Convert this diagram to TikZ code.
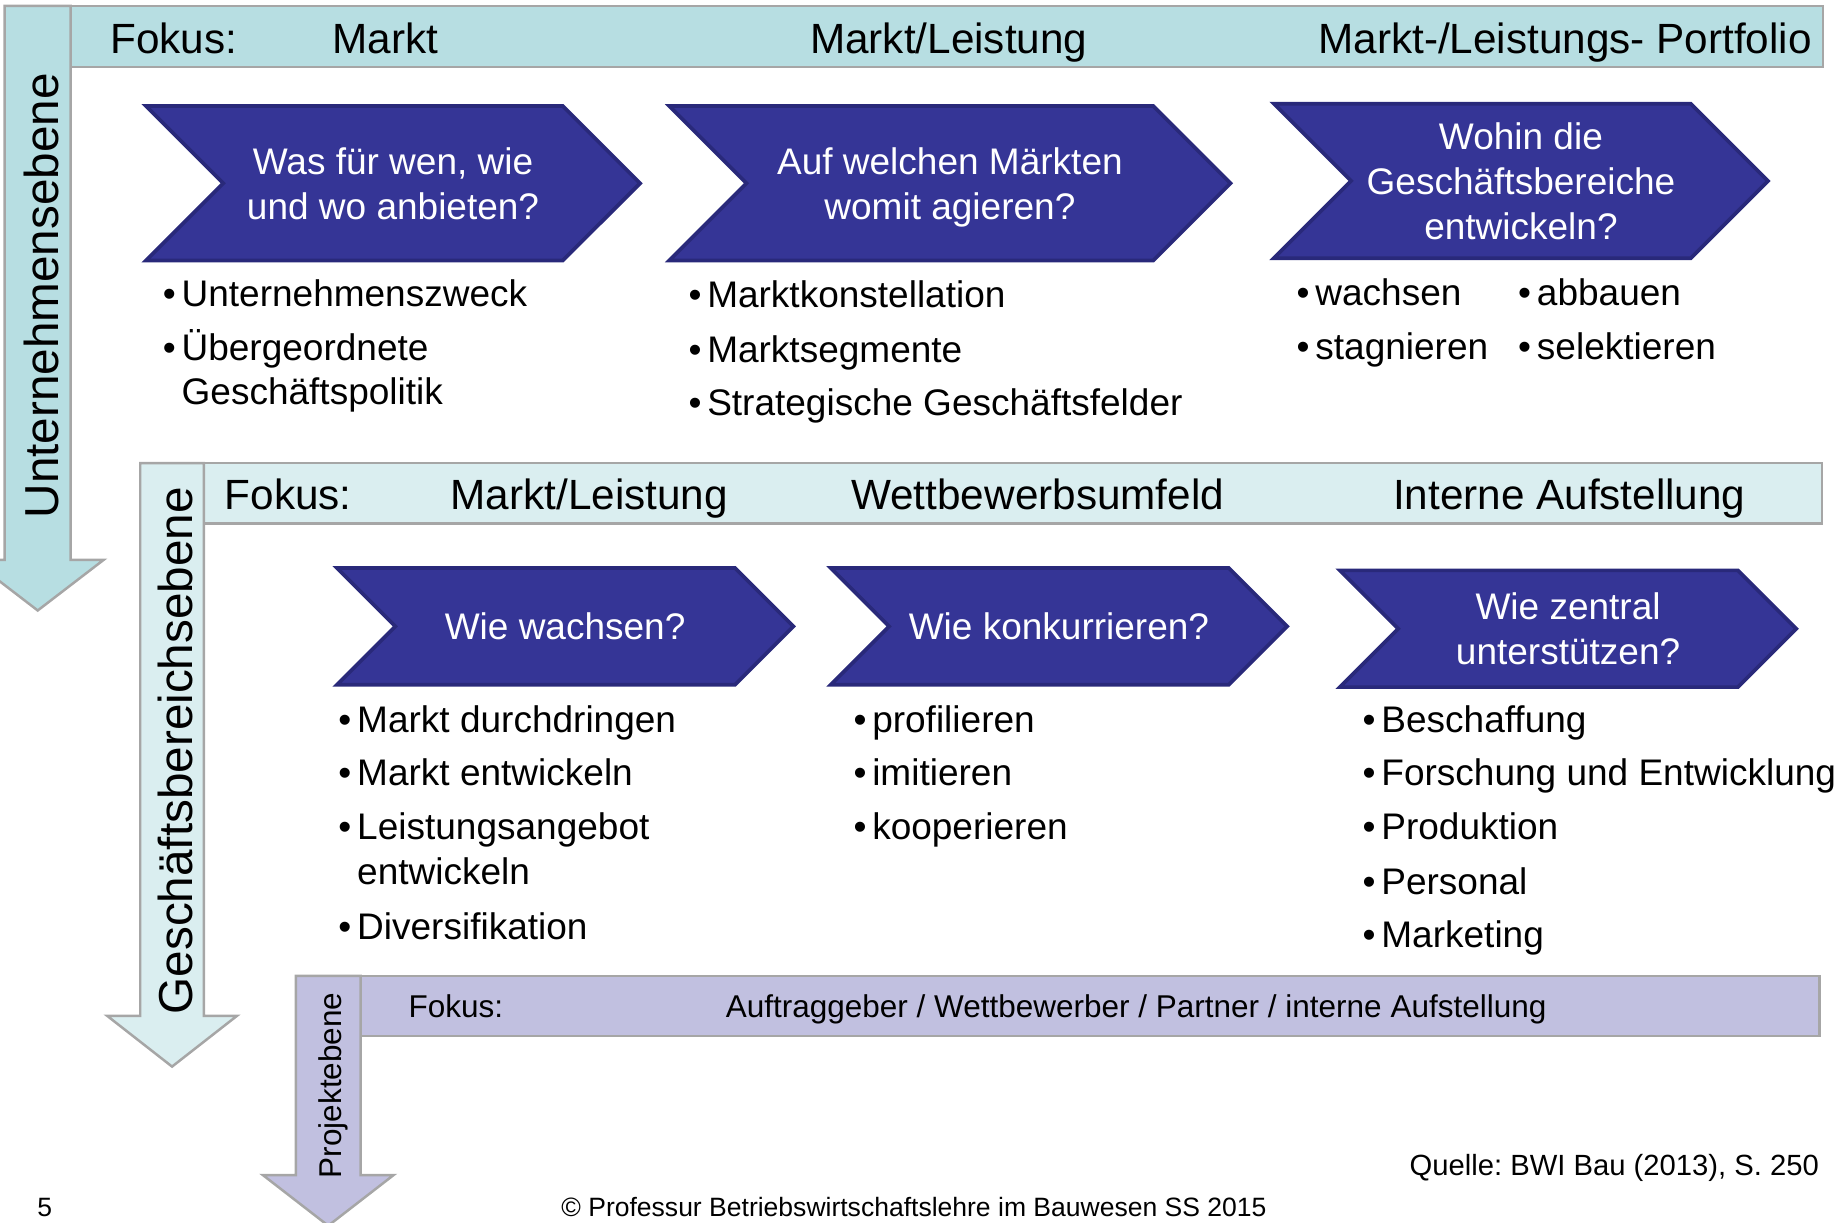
\documentclass[tikz,border=0pt]{standalone}
\usepackage{fontspec}
\setmainfont{Liberation Sans}
\frenchspacing
\usetikzlibrary{positioning,shapes.symbols}
\definecolor{lvla}{HTML}{B7DEE2}
\definecolor{lvlb}{HTML}{DAEEF0}
\definecolor{lvlc}{HTML}{C1C0E0}
\definecolor{chevfill}{HTML}{353596}
\definecolor{chevline}{HTML}{29297A}
\tikzset{lvl/.style={draw=black!35, line width=0.6pt}}
\tikzset{chev/.style={signal, signal from=west, signal to=east, draw=chevline, fill=chevfill, line width=0.9pt, text=white, align=center, inner sep=0pt, text depth=0pt, font=\fontsize{8.93}{10.8}\selectfont}}
\tikzset{blist/.style={anchor=north west, inner sep=0pt, font=\fontsize{8.93}{10.8}\selectfont}}
\tikzset{fok/.style={anchor=base, inner sep=0pt, font=\fontsize{10.2}{12}\selectfont}}
\tikzset{fok3/.style={anchor=base, inner sep=0pt, font=\fontsize{7.6}{9}\selectfont}}
\tikzset{vlab/.style={rotate=90, anchor=base, inner sep=0pt, font=\fontsize{11.5}{13}\selectfont}}
\begin{document}
\begin{tikzpicture}[x=0.01cm, y=-0.01cm]
\useasboundingbox (0,0) rectangle (1568,1037);
% Unternehmensebene
\draw[lvl, fill=lvla] (60,5) rectangle (1547,57);
\draw[lvl, fill=lvla] (4,5) -- (60,5) -- (60,475) -- (88,475) -- (32,518)
   -- (-24,475) -- (4,475) -- cycle;
\node[vlab] (v1) at (50,251) {Unternehmensebene};
\node[fok, anchor=base west] (f1) at (93,45) {Fokus:};
\node[fok] (f1a) at (327,45) {Markt};
\node[fok] (f1b) at (805,45) {Markt/Leistung};
\node[fok] (f1c) at (1328,45) {Markt-/Leistungs- Portfolio};
\node[chev, minimum width=4.19cm, minimum height=1.31cm] (c1) at (333.5,155.5)
   {Was für wen, wie\\und wo anbieten?};
\node[chev, minimum width=4.76cm, minimum height=1.31cm] (c2) at (806,155.5)
   {Auf welchen M\smash{ä}rkten\\womit agieren?};
\node[chev, minimum width=4.19cm, minimum height=1.31cm] (c3) at (1290.5,153.5)
   {Wohin die\\Geschäftsbereiche\\entwickeln?};
\node[blist] (l1) at (137.5,233) {\begin{tabular}{@{}l@{\hspace{1.4pt}}l@{}}
   \textbullet & Unternehmenszweck\\[2.1pt]
   \textbullet & Übergeordnete\\
   & Geschäftspolitik\end{tabular}};
\node[blist] (l2) at (583.5,234) {\begin{tabular}{@{}l@{\hspace{1.4pt}}l@{}}
   \textbullet & Marktkonstellation\\[2.3pt]
   \textbullet & Marktsegmente\\[2.1pt]
   \textbullet & Strategische Geschäftsfelder\end{tabular}};
\node[blist] (l3a) at (1099.5,232) {\begin{tabular}{@{}l@{\hspace{1.4pt}}l@{}}
   \textbullet & wachsen\\[2.3pt]
   \textbullet & stagnieren\end{tabular}};
\node[blist] (l3b) at (1287.5,232) {\begin{tabular}{@{}l@{\hspace{1.4pt}}l@{}}
   \textbullet & abbauen\\[2.3pt]
   \textbullet & selektieren\end{tabular}};
% Geschaeftsbereichsebene
\draw[lvl, fill=lvlb] (173,393) rectangle (1546,444);
\draw[lvl, fill=lvlb] (119,393) -- (173,393) -- (173,862) -- (201,862) -- (146,905)
   -- (91,862) -- (119,862) -- cycle;
\node[vlab] (v2) at (163,637) {Geschäftsbereichsebene};
\node[fok, anchor=base west] (f2) at (190,432) {Fokus:};
\node[fok] (f2a) at (500,432) {Markt/Leistung};
\node[fok] (f2b) at (880.5,432) {Wettbewerbsumfeld};
\node[fok] (f2c) at (1331.5,432) {Interne Aufstellung};
\node[chev, minimum width=3.87cm, minimum height=0.99cm] (c4) at (479.5,531.5)
   {Wie wachsen?};
\node[chev, minimum width=3.87cm, minimum height=0.99cm] (c5) at (898.5,531.5)
   {Wie konkurrieren?};
\node[chev, minimum width=3.87cm, minimum height=0.99cm] (c6) at (1330.5,533.5)
   {Wie zentral\\unterstützen?};
\node[blist] (l4) at (286.5,594) {\begin{tabular}{@{}l@{\hspace{1.4pt}}l@{}}
   \textbullet & Markt durchdringen\\[2.1pt]
   \textbullet & Markt entwickeln\\[2.3pt]
   \textbullet & Leistungsangebot\\
   & entwickeln\\[2.3pt]
   \textbullet & Diversifikation\end{tabular}};
\node[blist] (l5) at (723.5,594) {\begin{tabular}{@{}l@{\hspace{1.4pt}}l@{}}
   \textbullet & profilieren\\[2.1pt]
   \textbullet & imitieren\\[2.3pt]
   \textbullet & kooperieren\end{tabular}};
\node[blist] (l6) at (1155.5,594) {\begin{tabular}{@{}l@{\hspace{1.4pt}}l@{}}
   \textbullet & Beschaffung\\[2.1pt]
   \textbullet & Forschung und Entwicklung\\[2.3pt]
   \textbullet & Produktion\\[2.3pt]
   \textbullet & Personal\\[2.1pt]
   \textbullet & Marketing\end{tabular}};
% Projektebene
\draw[lvl, fill=lvlc] (306,828) rectangle (1544,879);
\draw[lvl, fill=lvlc] (251,828) -- (306,828) -- (306,997) -- (334,997) -- (278.5,1040)
   -- (223,997) -- (251,997) -- cycle;
\node[vlab, font=\fontsize{7.6}{9}\selectfont] (v3) at (290,921) {Projektebene};
\node[fok3, anchor=base west] (f3) at (346,863.5) {Fokus:};
\node[fok3] (f3a) at (964,863.5) {Auftraggeber / Wettbewerber / Partner / interne Aufstellung};
% Fusszeile
\node[fok3, font=\fontsize{7.05}{8}\selectfont, anchor=base east] (src) at (1544,997) {Quelle: BWI Bau (2013), S. 250};
\node[fok3, font=\fontsize{6.4}{8}\selectfont] (pg) at (38,1032) {5};
\node[fok3, font=\fontsize{6.4}{8}\selectfont] (copy) at (775.5,1032)
   {© Professur Betriebswirtschaftslehre im Bauwesen SS 2015};
\end{tikzpicture}
\end{document}
